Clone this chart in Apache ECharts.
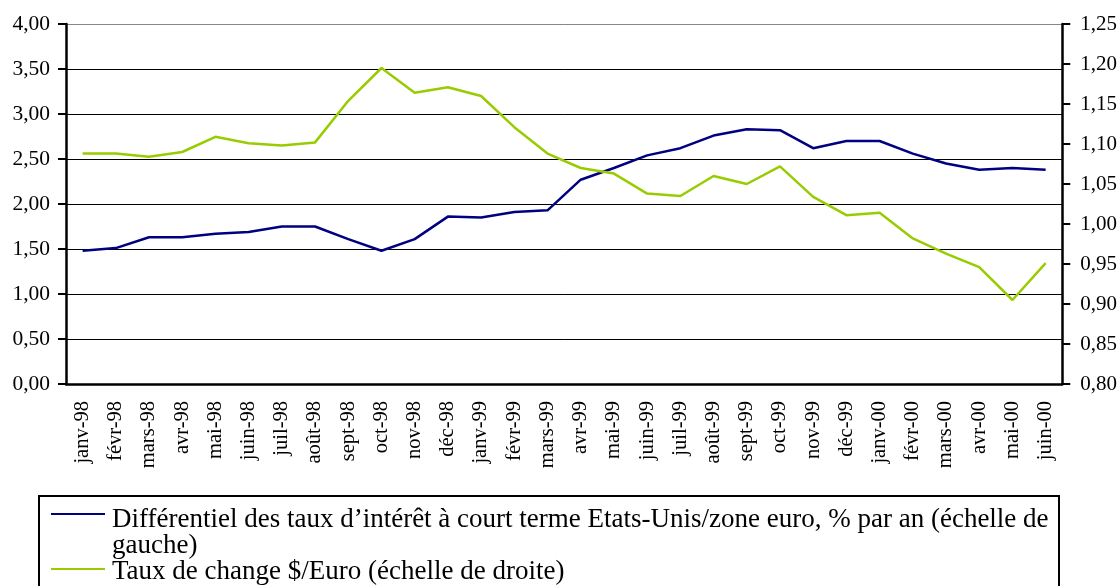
<!DOCTYPE html>
<html>
<head>
<meta charset="utf-8">
<script src="https://cdn.jsdelivr.net/npm/echarts@6/dist/echarts.min.js"></script>
<style>
  html, body { margin: 0; padding: 0; background: #fff; }
  #container { width: 1120px; height: 586px; }
</style>
</head>
<body>
<div id="container"></div>
<script>
var months = [
    'janv-98', 'févr-98', 'mars-98', 'avr-98', 'mai-98', 'juin-98', 'juil-98', 'août-98', 'sept-98', 'oct-98', 'nov-98', 'déc-98',
    'janv-99', 'févr-99', 'mars-99', 'avr-99', 'mai-99', 'juin-99', 'juil-99', 'août-99', 'sept-99', 'oct-99', 'nov-99', 'déc-99',
    'janv-00', 'févr-00', 'mars-00', 'avr-00', 'mai-00', 'juin-00'
];

// différentiel de taux (échelle de gauche)
var differentiel = [
    1.48, 1.51, 1.63, 1.63, 1.67, 1.69, 1.75, 1.75, 1.61, 1.48, 1.61, 1.86,
    1.85, 1.91, 1.93, 2.27, 2.40, 2.54, 2.62, 2.76, 2.83, 2.82, 2.62, 2.70,
    2.70, 2.56, 2.45, 2.38, 2.40, 2.38
];

// taux de change $/Euro (échelle de droite)
var tauxChange = [
    1.088, 1.088, 1.084, 1.090, 1.109, 1.101, 1.098, 1.102, 1.154, 1.195, 1.164, 1.171,
    1.160, 1.121, 1.088, 1.070, 1.063, 1.038, 1.035, 1.060, 1.050, 1.072, 1.034, 1.011,
    1.014, 0.982, 0.963, 0.946, 0.905, 0.951
];

var legendNames = [
    'Différentiel des taux d’intérêt à court terme Etats-Unis/zone euro, % par an (échelle de',
    'gauche)',
    'Taux de change $/Euro (échelle de droite)'
];

var serif = '"Liberation Serif", "DejaVu Serif", serif';
var blue = '#000080';
var green = '#99cc00';

function virgule(v) {
    return v.toFixed(2).replace('.', ',');
}

var option = {
    animation: false,
    grid: { left: 66, right: 57, top: 24, bottom: 202 },
    xAxis: {
        type: 'category',
        data: months,
        axisLine: { lineStyle: { color: '#000', width: 2.5 } },
        axisTick: { length: 7, lineStyle: { color: '#000', width: 2 } },
        axisLabel: {
            interval: 0,
            rotate: 90,
            margin: 17,
            color: '#000',
            fontFamily: serif,
            fontSize: 20.5
        }
    },
    yAxis: [{
        type: 'value',
        min: 0,
        max: 4,
        interval: 0.5,
        axisLine: { show: true, lineStyle: { color: '#000', width: 2.5 } },
        axisTick: { show: true, length: 8, lineStyle: { color: '#000', width: 2 } },
        axisLabel: {
            margin: 16,
            color: '#000',
            fontFamily: serif,
            fontSize: 21.5,
            formatter: virgule
        },
        splitLine: {
            lineStyle: {
                color: ['#000', '#000', '#000', '#000', '#000', '#000', '#000', '#000', '#888'],
                width: 1
            }
        }
    }, {
        type: 'value',
        position: 'right',
        min: 0.8,
        max: 1.25,
        interval: 0.05,
        axisLine: { show: true, lineStyle: { color: '#000', width: 2.5 } },
        axisTick: { show: true, length: 8, lineStyle: { color: '#000', width: 2 } },
        axisLabel: {
            margin: 18,
            color: '#000',
            fontFamily: serif,
            fontSize: 21,
            formatter: virgule
        },
        splitLine: { show: false }
    }],
    series: [{
        type: 'line',
        yAxisIndex: 0,
        data: differentiel,
        symbol: 'none',
        lineStyle: { color: blue, width: 2.5 }
    }, {
        type: 'line',
        yAxisIndex: 1,
        data: tauxChange,
        symbol: 'none',
        lineStyle: { color: green, width: 2.5 }
    }],
    graphic: [
        // cadre de la légende
        { type: 'rect', left: 38, top: 495, shape: { width: 1020, height: 120 },
          style: { fill: '#fff', stroke: '#000', lineWidth: 2 } },
        { type: 'line', shape: { x1: 51, y1: 514, x2: 105, y2: 514 },
          style: { stroke: blue, lineWidth: 2 } },
        { type: 'line', shape: { x1: 51, y1: 569, x2: 105, y2: 569 },
          style: { stroke: green, lineWidth: 2 } },
        { type: 'text', x: 112, y: 520,
          style: { text: legendNames[0], font: '27px ' + serif, fill: '#000', verticalAlign: 'middle' } },
        { type: 'text', x: 112, y: 546,
          style: { text: legendNames[1], font: '27px ' + serif, fill: '#000', verticalAlign: 'middle' } },
        { type: 'text', x: 112, y: 572,
          style: { text: legendNames[2], font: '27px ' + serif, fill: '#000', verticalAlign: 'middle' } }
    ]
};

var myChart = echarts.init(document.getElementById('container'));
myChart.setOption(option);
</script>
</body>
</html>
